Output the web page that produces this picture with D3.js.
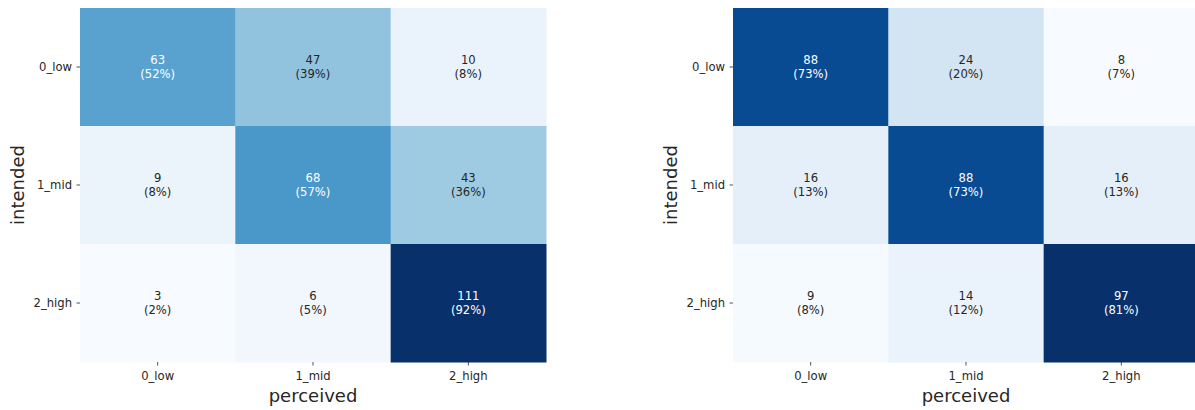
<!DOCTYPE html>
<html>
<head>
<meta charset="utf-8">
<script src="https://cdn.jsdelivr.net/npm/d3@7"></script>
<style>
  body { margin: 0; background: #fff; }
  svg { display: block; font-family: "DejaVu Sans", sans-serif; }
</style>
</head>
<body>
<div id="chart"></div>
<script>
// categories
const classes = ["0_low", "1_mid", "2_high"];

// confusion matrices (rows = intended, cols = perceived)
const countsLeft = [
  [63, 47, 10],
  [9, 68, 43],
  [3, 6, 111]
];
const countsRight = [
  [88, 24, 8],
  [16, 88, 16],
  [9, 14, 97]
];

// matplotlib "Blues" stops
const bluesStops = ["#f7fbff", "#deebf7", "#c6dbef", "#9ecae1", "#6baed6",
                    "#4292c6", "#2171b5", "#08519c", "#08306b"];

const width = 1195, height = 410;
const svg = d3.select("#chart").append("svg")
  .attr("width", width)
  .attr("height", height);

const plotTop = 8, plotBottom = 362;
const panels = [
  {counts: countsLeft, left: 80},
  {counts: countsRight, left: 733}
];
const panelW = 466;

function luminance(c) {
  const rgb = d3.rgb(c);
  const f = v => {
    v /= 255;
    return v <= 0.03928 ? v / 12.92 : Math.pow((v + 0.055) / 1.055, 2.4);
  };
  return 0.2126 * f(rgb.r) + 0.7152 * f(rgb.g) + 0.0722 * f(rgb.b);
}

// python-style round half to even
function roundEven(v) {
  const f = Math.floor(v), diff = v - f;
  if (Math.abs(diff - 0.5) < 1e-9) return f % 2 === 0 ? f : f + 1;
  return Math.round(v);
}

panels.forEach(p => {
  const cells = [];
  p.counts.forEach((row, i) => {
    const total = d3.sum(row);
    row.forEach((v, j) => cells.push({r: classes[i], c: classes[j], v: v, pct: v / total}));
  });

  const x = d3.scaleBand().domain(classes).range([p.left, p.left + panelW]);
  const y = d3.scaleBand().domain(classes).range([plotTop, plotBottom]);

  const ext = d3.extent(cells, d => d.v);
  const color = d3.scaleLinear()
    .domain(d3.range(bluesStops.length).map(k => ext[0] + (ext[1] - ext[0]) * k / (bluesStops.length - 1)))
    .range(bluesStops)
    .interpolate(d3.interpolateRgb);

  const g = svg.append("g");

  g.selectAll("rect")
    .data(cells)
    .join("rect")
    .attr("x", d => x(d.c))
    .attr("y", d => y(d.r))
    .attr("width", x.bandwidth() + 0.5)
    .attr("height", y.bandwidth() + 0.5)
    .attr("fill", d => color(d.v));

  const labels = g.selectAll("text.cell")
    .data(cells)
    .join("text")
    .attr("class", "cell")
    .attr("text-anchor", "middle")
    .attr("font-size", "11.6px")
    .attr("fill", d => luminance(color(d.v)) < 0.408 ? "#ffffff" : "#262626");

  labels.append("tspan")
    .attr("x", d => x(d.c) + x.bandwidth() / 2)
    .attr("y", d => y(d.r) + y.bandwidth() / 2 - 6.7)
    .attr("dy", "0.35em")
    .text(d => d.v);
  labels.append("tspan")
    .attr("x", d => x(d.c) + x.bandwidth() / 2)
    .attr("y", d => y(d.r) + y.bandwidth() / 2 + 6.7)
    .attr("dy", "0.35em")
    .text(d => `(${roundEven(d.pct * 100)}%)`);

  // axes
  const xAxis = svg.append("g")
    .attr("transform", `translate(0,${plotBottom})`)
    .call(d3.axisBottom(x).tickSize(3.5).tickPadding(6.5));
  const yAxis = svg.append("g")
    .attr("transform", `translate(${p.left},0)`)
    .call(d3.axisLeft(y).tickSize(3.5).tickPadding(4.5));

  [xAxis, yAxis].forEach(a => {
    a.select(".domain").remove();
    a.selectAll(".tick line").attr("stroke", "#262626").attr("stroke-width", 0.8);
    a.selectAll(".tick text")
      .attr("font-family", "DejaVu Sans, sans-serif")
      .attr("font-size", "11.6px")
      .attr("fill", "#262626");
  });

  svg.append("text")
    .attr("x", p.left + panelW / 2)
    .attr("y", 402)
    .attr("text-anchor", "middle")
    .attr("font-size", "18px")
    .attr("fill", "#262626")
    .text("perceived");

  svg.append("text")
    .attr("transform", `translate(${p.left - 56},${(plotTop + plotBottom) / 2}) rotate(-90)`)
    .attr("text-anchor", "middle")
    .attr("font-size", "18px")
    .attr("fill", "#262626")
    .text("intended");
});
</script>
</body>
</html>
